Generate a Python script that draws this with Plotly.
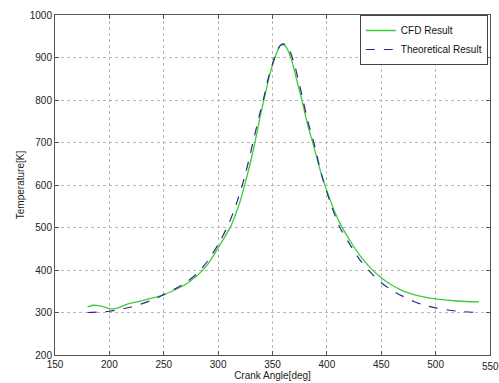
import plotly.graph_objects as go

# Theoretical result (dashed)
theo_angle = [180, 200, 220, 240, 250, 260, 270, 280, 290, 300, 310, 318, 325, 332, 338, 342,
              346, 350, 354, 357, 360, 363, 366, 370, 374, 378, 383, 389, 395, 403, 412, 420,
              430, 440, 450, 460, 470, 480, 490, 500, 520, 540]
theo_temp = [300, 303, 313, 330, 342, 355, 370, 390, 420, 460, 510, 565, 625, 700, 765, 805,
             850, 885, 915, 928, 932, 928, 915, 885, 845, 800, 745, 690, 625, 560, 500, 465,
             425, 395, 370, 352, 338, 326, 317, 311, 303, 300]

# CFD result (solid green)
cfd_angle = [180, 185, 190, 195, 200, 205, 210, 216, 225, 235, 249, 260, 270, 280, 290, 300,
             312, 320, 327, 333, 339, 343, 347, 351, 355, 358, 361, 364, 368, 372, 377, 382,
             388, 395, 403, 411, 421, 431, 440, 450, 460, 470, 480, 490, 500, 520, 540]
cfd_temp = [313, 317, 316, 313, 309, 309, 313, 319, 325, 331, 341, 353, 366, 385, 412, 452,
            505, 560, 625, 690, 765, 810, 855, 890, 918, 930, 929, 918, 890, 850, 800, 745,
            690, 625, 565, 515, 470, 432, 405, 382, 364, 351, 342, 336, 332, 327, 325]

x_ticks = [150, 200, 250, 300, 350, 400, 450, 500, 550]
y_ticks = [200, 300, 400, 500, 600, 700, 800, 900, 1000]

FONT = "Liberation Sans, Arial, sans-serif"
TXT = "#222222"

fig = go.Figure()
fig.add_trace(go.Scatter(x=cfd_angle, y=cfd_temp, mode="lines", name="CFD Result",
                         line=dict(color="#3ccc3c", width=1.3, shape="spline", smoothing=0.8)))
fig.add_trace(go.Scatter(x=theo_angle, y=theo_temp, mode="lines", name="Theoretical Result",
                         line=dict(color="#2b2b85", width=1.2, dash="dash", shape="spline", smoothing=0.8)))

axis_common = dict(showline=True, linecolor="#555555", linewidth=1, mirror="ticks",
                   ticks="inside", ticklen=4, tickcolor="#555555",
                   showgrid=True, gridcolor="#b8b8b8", griddash="dot", gridwidth=1,
                   zeroline=False, automargin=False,
                   ticklabelposition="outside", ticklabeloverflow="allow",
                   tickfont=dict(family=FONT, size=10, color=TXT))

# the last x tick label sits at the page edge (plotly may hide it), so it is drawn as an annotation
x_ticktext = [str(v) for v in x_ticks[:-1]] + [""]

fig.update_xaxes(range=[150, 550], tickvals=x_ticks, ticktext=x_ticktext,
                 title=dict(text="Crank Angle[deg]", font=dict(family=FONT, size=10, color=TXT), standoff=0),
                 **axis_common)
fig.update_yaxes(range=[200, 1000], tickvals=y_ticks,
                 title=dict(text="Temperature[K]", font=dict(family=FONT, size=10, color=TXT), standoff=3),
                 **axis_common)

# x = 1 in paper coordinates is the right end of the x axis, i.e. the last tick value
fig.add_annotation(x=1.0, xref="paper", xanchor="center", y=0, yref="paper", yanchor="middle",
                   yshift=-11, text=str(x_ticks[-1]), showarrow=False, borderpad=0,
                   font=dict(family=FONT, size=10, color=TXT))

fig.update_layout(
    width=499, height=383,
    margin=dict(l=55, r=9, t=15, b=28),
    paper_bgcolor="white", plot_bgcolor="white",
    font=dict(family=FONT),
    showlegend=True,
    legend=dict(x=0.995, y=1.0, xanchor="right", yanchor="top",
                bgcolor="white", bordercolor="#444444", borderwidth=1,
                font=dict(family=FONT, size=10, color="#111111"), tracegroupgap=0,
                itemwidth=30),
)

fig.write_html("out.html")
